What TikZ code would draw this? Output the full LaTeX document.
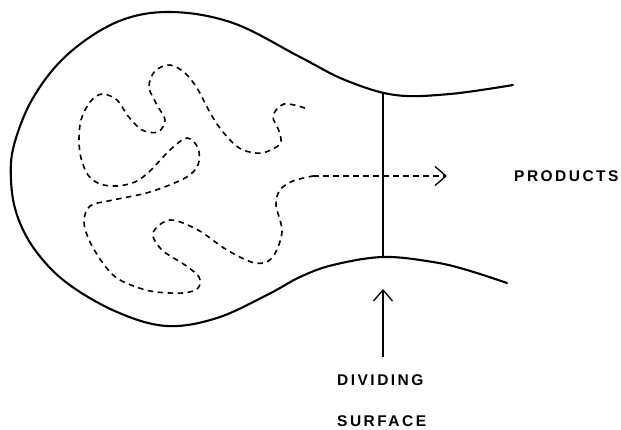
\documentclass[tikz,border=0pt]{standalone}
\usepackage{fontspec}
\newfontfamily\labfont[LetterSpace=16, BoldFont={Liberation Sans Bold}]{Liberation Sans}
\usetikzlibrary{arrows.meta}
\tikzset{
  wall/.style={line width=2.1pt, line cap=round, line join=round},
  surf/.style={line width=1.1pt},
  traj/.style={line width=1.6pt, dash pattern=on 5.5pt off 4.5pt},
  lab/.style={font=\labfont\bfseries\fontsize{15.5}{17}\selectfont, inner sep=0pt, anchor=west},
  barb/.style={-{Straight Barb[length=11pt,width=19pt,line width=1.3pt]}}
}
\begin{document}
\begin{tikzpicture}[x=1pt,y=-1pt]
\useasboundingbox (0,0) rectangle (621,430);
% outer wall
\draw[wall] plot[smooth, tension=0.6] coordinates {
 (513,85) (450,94) (395,95) (345,80) (300,57) (233,23) (170,12)
 (117,22) (67,55) (33,98) (14,145) (11,180) (17,215) (35,250) (67,283)
 (117,312) (167,326) (217,318) (267,295) (300,277) (333,265) (383,257)
 (433,262) (467,270) (507,283)};
% dividing surface
\coordinate (dtop) at (383,93);
\coordinate (dbot) at (383,257);
\draw[surf] (dtop) -- (dbot);
% trajectory
\coordinate (tipP) at (447,176);
\draw[traj] plot[smooth, tension=0.55] coordinates {
 (305,108) (284,104) (273,116) (279,131) (280,144) (262,153) (243,150)
 (230,140) (217,124) (207,107) (197,88) (185,73) (170,65) (155,71)
 (149,87) (157,105) (165,120) (158,132) (142,130) (128,116) (117,100)
 (102,94) (90,102) (81,120) (79,140) (81,158) (88,175) (100,184)
 (117,186) (135,182) (150,171) (170,150) (187,138) (198,148) (198,165)
 (185,178) (150,192) (113,200) (90,206) (84,222) (90,242) (105,266)
 (120,280) (150,291) (183,293) (198,288) (199,277) (185,265) (162,250)
 (153,233) (170,220) (198,230) (227,250) (255,263) (272,258) (282,232)
 (276,205) (280,190) (293,181) (313,176)} coordinate (tend);
\draw[traj, barb] (tend) -- (tipP);
% labels
\node[lab] (prod) at (514,176) {PRODUCTS};
\node[lab] (div) at (337,380) {DIVIDING};
\node[lab] (sur) at (337,421) {SURFACE};
\coordinate (atail) at (383,357);
\coordinate (ahead) at (383,289);
\draw[surf, barb] (atail) -- (ahead);
\end{tikzpicture}
\end{document}
